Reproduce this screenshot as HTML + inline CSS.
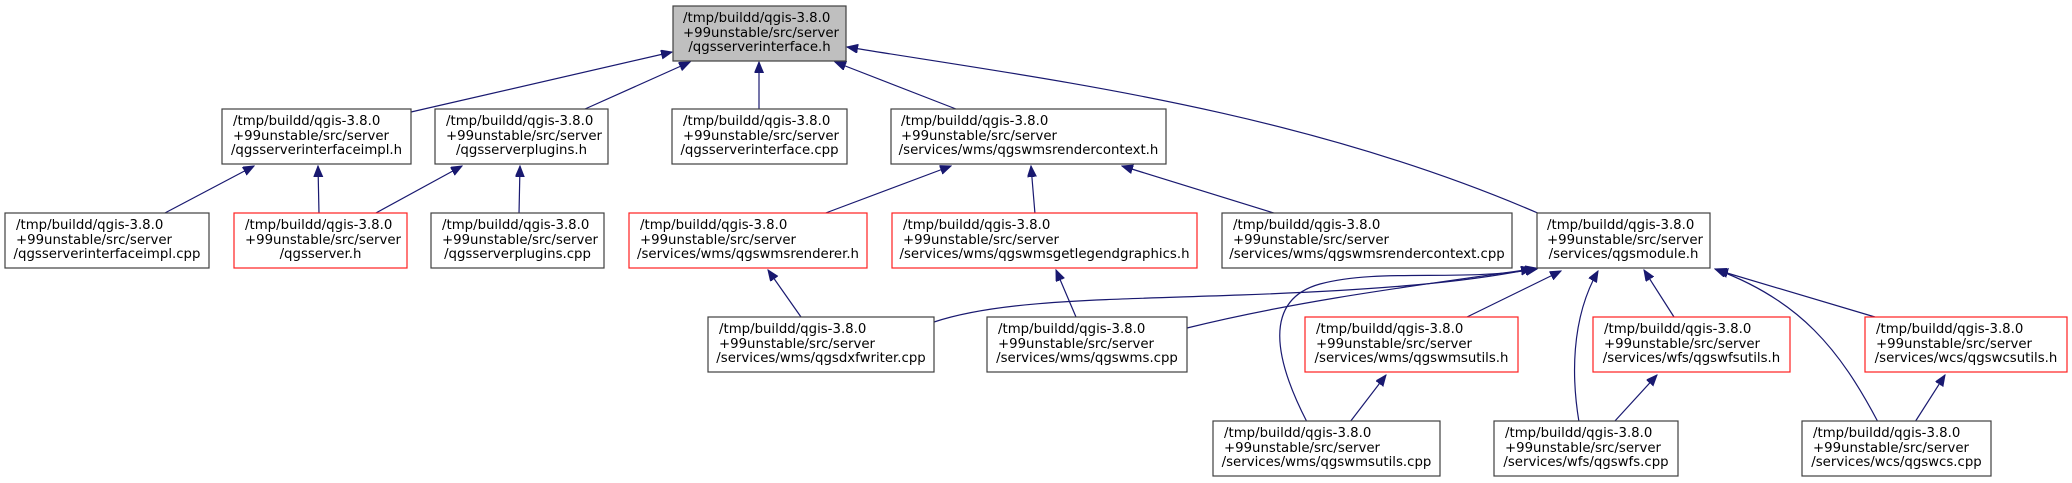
<!DOCTYPE html>
<html><head><meta charset="utf-8"><style>
html,body{margin:0;padding:0;background:#fff;}
svg{display:block;}
text{font-family:"DejaVu Sans","Liberation Sans",sans-serif;font-size:13.3px;fill:#000;}
</style></head><body>
<svg width="2072" height="483" viewBox="0 0 2072 483" xmlns="http://www.w3.org/2000/svg">
<defs>
<marker id="a" markerUnits="userSpaceOnUse" markerWidth="12" markerHeight="10" refX="11" refY="4.5" orient="auto">
<path d="M0,0 L11,4.5 L0,9 z" fill="#191970" stroke="#191970"/>
</marker>
</defs>
<g fill="none" stroke="#191970" stroke-width="1.2" marker-end="url(#a)">
<path d="M411,112 L672,52"/>
<path d="M585,109 L690,62"/>
<path d="M759,109 L759,62"/>
<path d="M956,109 L835,62"/>
<path d="M1540,214 C1300,110 1050,80 847,47"/>
<path d="M163,214 L254,166"/>
<path d="M319,214 L318,166"/>
<path d="M374,214 L462,166"/>
<path d="M519,214 L520,166"/>
<path d="M823,214 L951,166"/>
<path d="M1035,214 L1031,166"/>
<path d="M1277,214 L1122,166"/>
<path d="M801,317 L768,270"/>
<path d="M1076,317 L1056,270"/>
<path d="M934,322 C1000,300 1100,300 1240,295 C1380,290 1470,282 1536,268"/>
<path d="M1187,328 C1300,300 1420,285 1532,269"/>
<path d="M1307,422 C1275,360 1262,300 1320,284 C1380,268 1460,282 1537,269"/>
<path d="M1467,317 L1561,271"/>
<path d="M1579,422 C1572,380 1570,320 1598,271"/>
<path d="M1674,317 L1644,270"/>
<path d="M1878,422 C1840,350 1800,300 1715,269"/>
<path d="M1875,317 L1717,270"/>
<path d="M1350,422 L1386,375"/>
<path d="M1614,422 L1657,375"/>
<path d="M1915,422 L1945,375"/>
</g>
<g stroke-width="1.2">
<rect x="673" y="6" width="173" height="55" fill="#bfbfbf" stroke="#404040"/>
<rect x="222" y="109" width="189" height="55" fill="#fff" stroke="#404040"/>
<rect x="435" y="109" width="173" height="55" fill="#fff" stroke="#404040"/>
<rect x="672" y="109" width="175" height="55" fill="#fff" stroke="#404040"/>
<rect x="891" y="109" width="275" height="55" fill="#fff" stroke="#404040"/>
<rect x="5" y="213" width="204" height="55" fill="#fff" stroke="#404040"/>
<rect x="234" y="213" width="173" height="55" fill="#fff" stroke="#ff2020"/>
<rect x="431" y="213" width="173" height="55" fill="#fff" stroke="#404040"/>
<rect x="629" y="213" width="238" height="55" fill="#fff" stroke="#ff2020"/>
<rect x="892" y="213" width="305" height="55" fill="#fff" stroke="#ff2020"/>
<rect x="1222" y="213" width="290" height="55" fill="#fff" stroke="#404040"/>
<rect x="1537" y="213" width="173" height="55" fill="#fff" stroke="#404040"/>
<rect x="708" y="317" width="226" height="55" fill="#fff" stroke="#404040"/>
<rect x="987" y="317" width="200" height="55" fill="#fff" stroke="#404040"/>
<rect x="1305" y="317" width="213" height="55" fill="#fff" stroke="#ff2020"/>
<rect x="1593" y="317" width="197" height="55" fill="#fff" stroke="#ff2020"/>
<rect x="1865" y="317" width="202" height="55" fill="#fff" stroke="#ff2020"/>
<rect x="1213" y="421" width="227" height="55" fill="#fff" stroke="#404040"/>
<rect x="1494" y="421" width="184" height="55" fill="#fff" stroke="#404040"/>
<rect x="1802" y="421" width="189" height="55" fill="#fff" stroke="#404040"/>
</g>
<g>
<text x="683" y="22">/tmp/buildd/qgis-3.8.0</text><text x="683" y="37">+99unstable/src/server</text><text x="759.5" y="51" text-anchor="middle">/qgsserverinterface.h</text>
<text x="233" y="125">/tmp/buildd/qgis-3.8.0</text><text x="233" y="140">+99unstable/src/server</text><text x="316.5" y="154" text-anchor="middle">/qgsserverinterfaceimpl.h</text>
<text x="446" y="125">/tmp/buildd/qgis-3.8.0</text><text x="446" y="140">+99unstable/src/server</text><text x="521.5" y="154" text-anchor="middle">/qgsserverplugins.h</text>
<text x="683" y="125">/tmp/buildd/qgis-3.8.0</text><text x="683" y="140">+99unstable/src/server</text><text x="759.5" y="154" text-anchor="middle">/qgsserverinterface.cpp</text>
<text x="901" y="125">/tmp/buildd/qgis-3.8.0</text><text x="901" y="140">+99unstable/src/server</text><text x="1028.5" y="154" text-anchor="middle">/services/wms/qgswmsrendercontext.h</text>
<text x="16" y="229">/tmp/buildd/qgis-3.8.0</text><text x="16" y="244">+99unstable/src/server</text><text x="107" y="258" text-anchor="middle">/qgsserverinterfaceimpl.cpp</text>
<text x="245" y="229">/tmp/buildd/qgis-3.8.0</text><text x="245" y="244">+99unstable/src/server</text><text x="320.5" y="258" text-anchor="middle">/qgsserver.h</text>
<text x="442" y="229">/tmp/buildd/qgis-3.8.0</text><text x="442" y="244">+99unstable/src/server</text><text x="517.5" y="258" text-anchor="middle">/qgsserverplugins.cpp</text>
<text x="640" y="229">/tmp/buildd/qgis-3.8.0</text><text x="640" y="244">+99unstable/src/server</text><text x="748" y="258" text-anchor="middle">/services/wms/qgswmsrenderer.h</text>
<text x="903" y="229">/tmp/buildd/qgis-3.8.0</text><text x="903" y="244">+99unstable/src/server</text><text x="1044.5" y="258" text-anchor="middle">/services/wms/qgswmsgetlegendgraphics.h</text>
<text x="1233" y="229">/tmp/buildd/qgis-3.8.0</text><text x="1233" y="244">+99unstable/src/server</text><text x="1367" y="258" text-anchor="middle">/services/wms/qgswmsrendercontext.cpp</text>
<text x="1547" y="229">/tmp/buildd/qgis-3.8.0</text><text x="1547" y="244">+99unstable/src/server</text><text x="1623.5" y="258" text-anchor="middle">/services/qgsmodule.h</text>
<text x="719" y="333">/tmp/buildd/qgis-3.8.0</text><text x="719" y="348">+99unstable/src/server</text><text x="821" y="362" text-anchor="middle">/services/wms/qgsdxfwriter.cpp</text>
<text x="998" y="333">/tmp/buildd/qgis-3.8.0</text><text x="998" y="348">+99unstable/src/server</text><text x="1087" y="362" text-anchor="middle">/services/wms/qgswms.cpp</text>
<text x="1316" y="333">/tmp/buildd/qgis-3.8.0</text><text x="1316" y="348">+99unstable/src/server</text><text x="1411.5" y="362" text-anchor="middle">/services/wms/qgswmsutils.h</text>
<text x="1604" y="333">/tmp/buildd/qgis-3.8.0</text><text x="1604" y="348">+99unstable/src/server</text><text x="1691.5" y="362" text-anchor="middle">/services/wfs/qgswfsutils.h</text>
<text x="1876" y="333">/tmp/buildd/qgis-3.8.0</text><text x="1876" y="348">+99unstable/src/server</text><text x="1966" y="362" text-anchor="middle">/services/wcs/qgswcsutils.h</text>
<text x="1224" y="437">/tmp/buildd/qgis-3.8.0</text><text x="1224" y="452">+99unstable/src/server</text><text x="1326.5" y="466" text-anchor="middle">/services/wms/qgswmsutils.cpp</text>
<text x="1505" y="437">/tmp/buildd/qgis-3.8.0</text><text x="1505" y="452">+99unstable/src/server</text><text x="1586" y="466" text-anchor="middle">/services/wfs/qgswfs.cpp</text>
<text x="1813" y="437">/tmp/buildd/qgis-3.8.0</text><text x="1813" y="452">+99unstable/src/server</text><text x="1896.5" y="466" text-anchor="middle">/services/wcs/qgswcs.cpp</text>
</g>
</svg>
</body></html>
